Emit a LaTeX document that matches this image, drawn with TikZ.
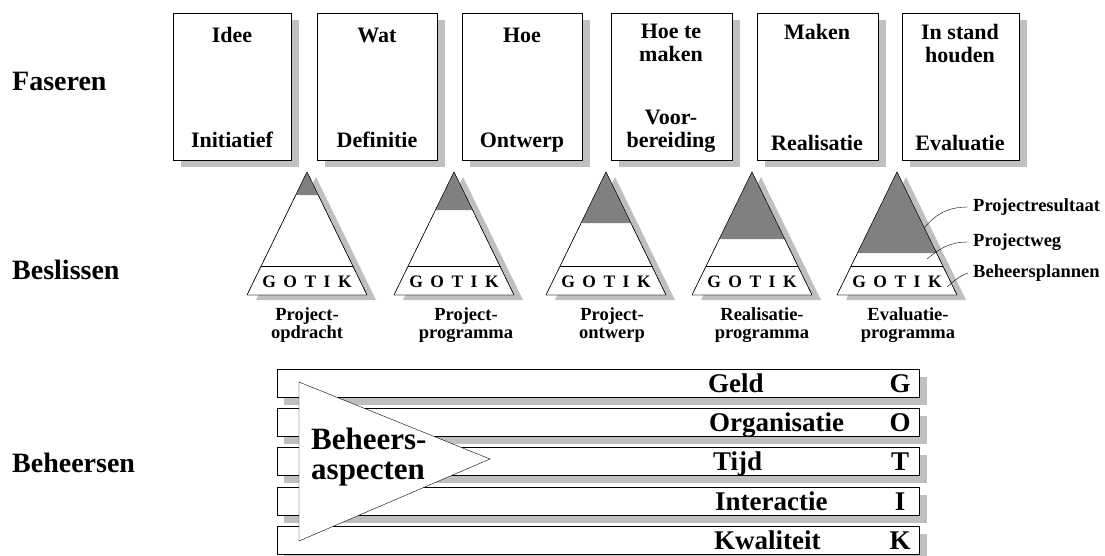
\documentclass[tikz,border=0pt]{standalone}
\usepackage{fontspec}
\setmainfont{Liberation Serif}
\colorlet{schaduw}{black!25}
\colorlet{resultaat}{black!50}
\newcommand{\gotik}{G\hspace{7.5pt}O\hspace{7.5pt}T\hspace{7.5pt}I\hspace{7.5pt}K}

\begin{document}
\begin{tikzpicture}[x=1pt,y=-1pt,
  every node/.style={inner sep=0},
  rij/.style={anchor=west,font=\fontsize{28}{30}\selectfont\bfseries},
  fase/.style={align=center,font=\fontsize{22}{23}\selectfont\bfseries},
  besluit/.style={align=center,font=\fontsize{18.5}{17.5}\selectfont\bfseries},
  gotikrij/.style={font=\fontsize{17.5}{18}\selectfont\bfseries,text height=12pt,text depth=0pt},
  uitleg/.style={anchor=west,font=\fontsize{18.5}{20}\selectfont\bfseries},
  aspect/.style={anchor=west,font=\fontsize{27}{28}\selectfont\bfseries,text height=18pt,text depth=0pt},
  letter/.style={font=\fontsize{27}{28}\selectfont\bfseries,text height=18pt,text depth=0pt}]
\useasboundingbox (0,0) rectangle (1105,555);
% rijen
\node[rij] (faseren) at (12,81) {Faseren};
\node[rij] (beslissen) at (12,270) {Beslissen};
\node[rij] (beheersen) at (12,463) {Beheersen};
% fasen
\fill[schaduw] (181,20) rectangle (299,167);
\draw[fill=white] (173,13) rectangle (291,160);
\node[fase] (idee) at (232,35) {Idee};
\node[fase] (initiatief) at (232,140) {Initiatief};
\fill[schaduw] (325,20) rectangle (445,167);
\draw[fill=white] (317,13) rectangle (437,160);
\node[fase] (wat) at (377,35) {Wat};
\node[fase] (definitie) at (377,140) {Definitie};
\fill[schaduw] (470,20) rectangle (590,167);
\draw[fill=white] (462,13) rectangle (582,160);
\node[fase] (hoe) at (522,35) {Hoe};
\node[fase] (ontwerp) at (522,143) {Ontwerp};
\fill[schaduw] (619,20) rectangle (740,167);
\draw[fill=white] (611,13) rectangle (732,160);
\node[fase] (hoetemaken) at (671,43) {Hoe te\\maken};
\node[fase] (voorbereiding) at (671,131) {Voor-\\bereiding};
\fill[schaduw] (765,20) rectangle (886,167);
\draw[fill=white] (757,13) rectangle (878,160);
\node[fase] (maken) at (817,32) {Maken};
\node[fase] (realisatie) at (817,143) {Realisatie};
\fill[schaduw] (910,20) rectangle (1027,167);
\draw[fill=white] (902,13) rectangle (1019,160);
\node[fase] (instandhouden) at (960,43) {In stand\\houden};
\node[fase] (evaluatie) at (960,143) {Evaluatie};
% besluiten
\fill[schaduw] (316,177) -- (376,300) -- (256,300) -- cycle;
\draw[fill=white] (307,172) -- (367,295) -- (247,295) -- cycle;
\fill[resultaat] (307,172) -- (318.2,195) -- (295.8,195) -- cycle;
\draw (307,172) -- (367,295) -- (247,295) -- cycle;
\draw (261.1,266) -- (352.9,266);
\node[gotikrij] (gotik1) at (307,281) {\gotik};
\node[besluit] (opdracht) at (307,325) {Project-\\opdracht};
\fill[schaduw] (463,177) -- (523,300) -- (403,300) -- cycle;
\draw[fill=white] (454,172) -- (514,295) -- (394,295) -- cycle;
\fill[resultaat] (454,172) -- (472.5,210) -- (435.5,210) -- cycle;
\draw (454,172) -- (514,295) -- (394,295) -- cycle;
\draw (408.1,266) -- (499.9,266);
\node[gotikrij] (gotik2) at (454,281) {\gotik};
\node[besluit] (programma) at (466,325) {Project-\\programma};
\fill[schaduw] (615,177) -- (675,300) -- (555,300) -- cycle;
\draw[fill=white] (606,172) -- (666,295) -- (546,295) -- cycle;
\fill[resultaat] (606,172) -- (630.9,223) -- (581.1,223) -- cycle;
\draw (606,172) -- (666,295) -- (546,295) -- cycle;
\draw (560.1,266) -- (651.9,266);
\node[gotikrij] (gotik3) at (606,281) {\gotik};
\node[besluit] (projectontwerp) at (612,325) {Project-\\ontwerp};
\fill[schaduw] (761,177) -- (821,300) -- (701,300) -- cycle;
\draw[fill=white] (752,172) -- (812,295) -- (692,295) -- cycle;
\fill[resultaat] (752,172) -- (784.7,239) -- (719.3,239) -- cycle;
\draw (752,172) -- (812,295) -- (692,295) -- cycle;
\draw (706.1,266) -- (797.9,266);
\node[gotikrij] (gotik4) at (752,281) {\gotik};
\node[besluit] (realisatieprog) at (762,325) {Realisatie-\\programma};
\fill[schaduw] (906,177) -- (966,300) -- (846,300) -- cycle;
\draw[fill=white] (897,172) -- (957,295) -- (837,295) -- cycle;
\fill[resultaat] (897,172) -- (936.5,253) -- (857.5,253) -- cycle;
\draw (897,172) -- (957,295) -- (837,295) -- cycle;
\draw (851.1,266) -- (942.9,266);
\node[gotikrij] (gotik5) at (897,281) {\gotik};
\node[besluit] (evaluatieprog) at (908,325) {Evaluatie-\\programma};
% toelichting
\node[uitleg] (projectresultaat) at (973,207) {Projectresultaat};
\node[uitleg] (projectweg) at (973,242) {Projectweg};
\node[uitleg] (beheersplannen) at (973,273) {Beheersplannen};
\coordinate (res) at (925,227);
\coordinate (weg) at (927,259);
\coordinate (plan) at (947,287);
\draw ([xshift=-5pt]projectresultaat.west) to[out=180,in=50] (res);
\draw ([xshift=-5pt]projectweg.west) to[out=180,in=40] (weg);
\draw ([xshift=-5pt]beheersplannen.west) to[out=200,in=40] (plan);
% beheersaspecten
\fill[schaduw] (284,377) rectangle (927,405);
\draw[fill=white] (277,369) rectangle (919,397);
\fill[schaduw] (284,416) rectangle (927,444);
\draw[fill=white] (277,408) rectangle (919,436);
\fill[schaduw] (284,455) rectangle (927,483);
\draw[fill=white] (277,447) rectangle (919,475);
\fill[schaduw] (284,495) rectangle (927,523);
\draw[fill=white] (277,487) rectangle (919,515);
\fill[schaduw] (284,534) rectangle (927,562);
\draw[fill=white] (277,526) rectangle (919,554);
\draw[fill=white] (299,382) -- (490,459) -- (299,541) -- cycle;
\node[anchor=west,align=left,font=\fontsize{31}{30}\selectfont\bfseries] (beheersaspecten) at (311,457) {Beheers-\\aspecten};
\node[aspect] (geld) at (708,383) {Geld};
\node[aspect] (organisatie) at (709,422) {Organisatie};
\node[aspect] (tijd) at (713,461) {Tijd};
\node[aspect] (interactie) at (715,501) {Interactie};
\node[aspect] (kwaliteit) at (714,540) {Kwaliteit};
\node[letter] (g) at (900,383) {G};
\node[letter] (o) at (900,422) {O};
\node[letter] (t) at (900,461) {T};
\node[letter] (i) at (900,501) {I};
\node[letter] (k) at (900,540) {K};
\end{tikzpicture}
\end{document}
